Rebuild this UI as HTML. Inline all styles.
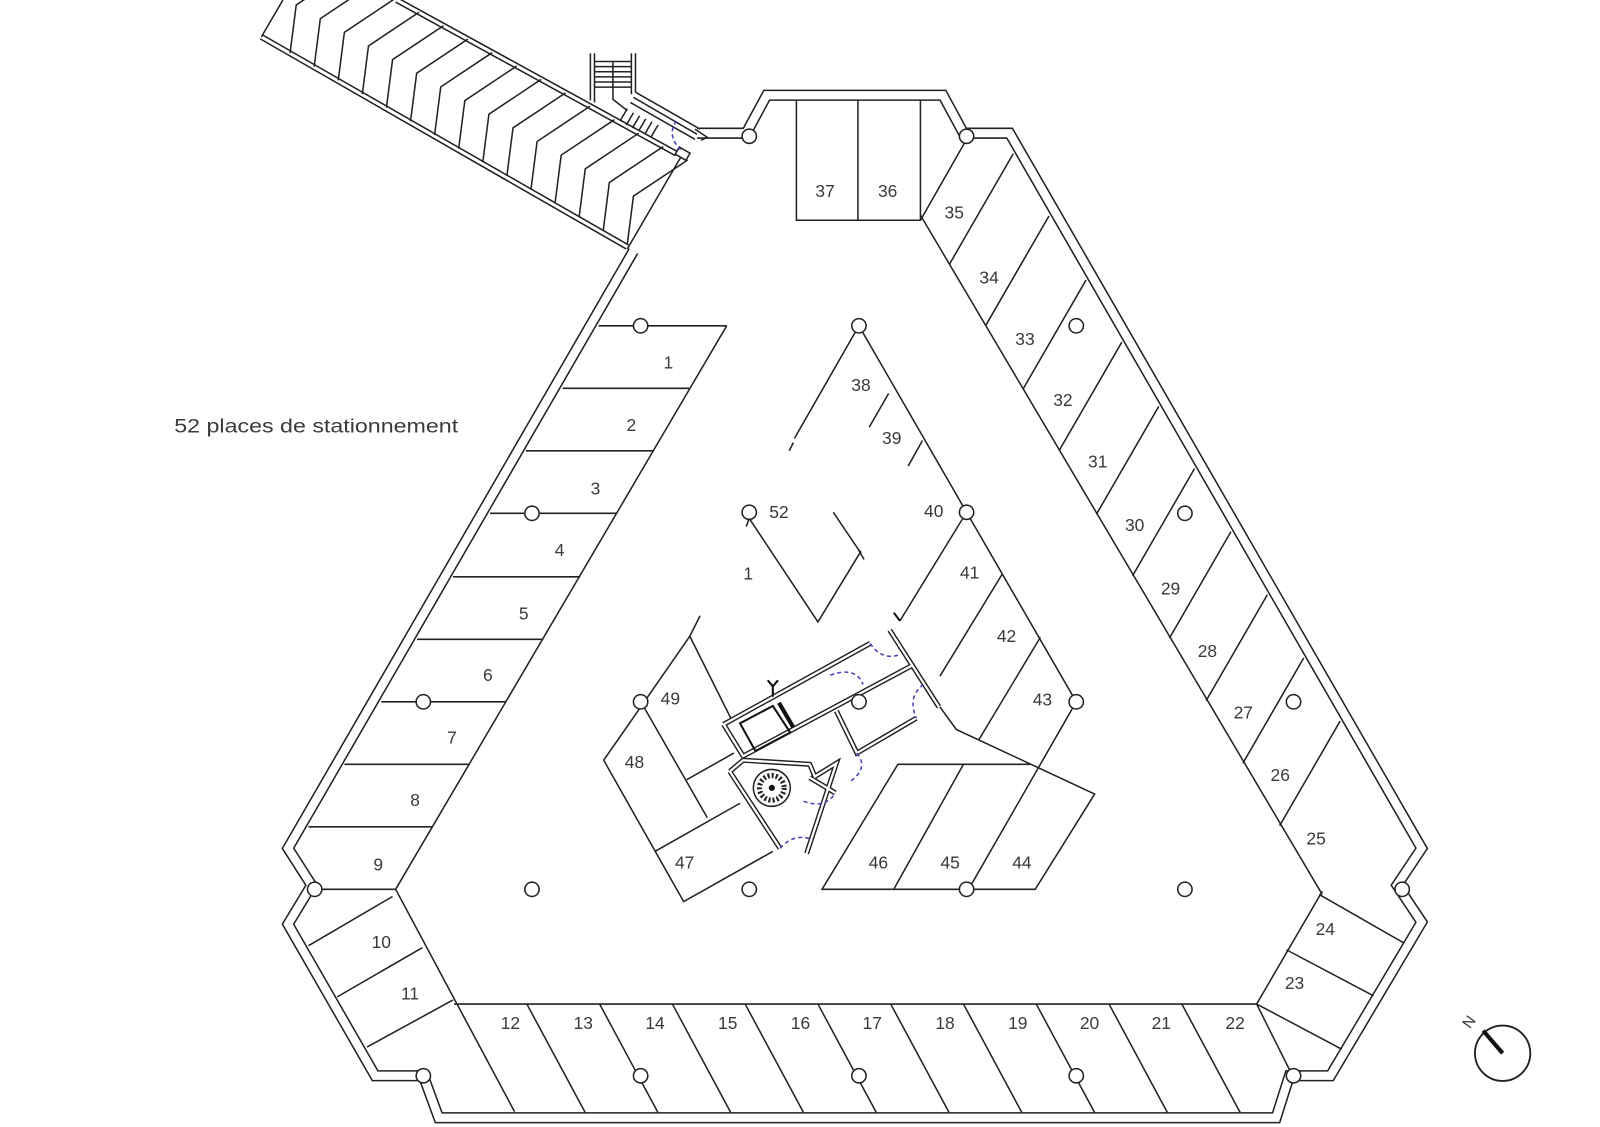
<!DOCTYPE html>
<html><head><meta charset="utf-8">
<style>
html,body{margin:0;padding:0;background:#fff;}
svg{display:block;}
text{font-family:"Liberation Sans",sans-serif;font-size:17px;fill:#3a3a3a;text-anchor:middle;dominant-baseline:middle;}
</style></head>
<body>
<svg id="s" width="1600" height="1127" viewBox="0 0 1561 1100" preserveAspectRatio="none" xmlns="http://www.w3.org/2000/svg">
<rect x="0" y="0" width="1561" height="1100" fill="#fff"/>
<g fill="none" stroke-linejoin="miter" stroke-linecap="butt">
  <path d="M680,130 L728,130 L748,93 L920,93 L940,130 L985,130 L1387,828 L1363,864 L1387,900 L1298,1050 L1258,1050 L1245,1091 L428,1091 L413,1050 L366,1050 L281,902 L304,864 L281,828 L618,245" stroke="#222" stroke-width="11"/>
  <path d="M680,130 L728,130 L748,93 L920,93 L940,130 L985,130 L1387,828 L1363,864 L1387,900 L1298,1050 L1258,1050 L1245,1091 L428,1091 L413,1050 L366,1050 L281,902 L304,864 L281,828 L618,245" stroke="#fff" stroke-width="8"/>

  <path d="M255,36 L612,241" stroke="#222" stroke-width="6"/>
  <path d="M255,36 L612,241" stroke="#fff" stroke-width="3"/>
  <path d="M387,0 L660,150" stroke="#222" stroke-width="6"/>
  <path d="M387,0 L660,150" stroke="#fff" stroke-width="3"/>
  <path d="M255,36 L276,0" stroke="#222" stroke-width="1.5"/>
  <path d="M665,152 L612,243" stroke="#222" stroke-width="1.5"/>
  <rect x="660" y="146" width="12" height="8" transform="rotate(30 666 150)" stroke="#222" stroke-width="1.5" fill="#fff"/>
  <g id="chev" stroke="#222" stroke-width="1.5"></g>

  <g stroke="#222" stroke-width="1.5">
    <path d="M576,52 L576,98 M580,52 L580,100 M616,52 L616,92 M620,52 L620,90"/>
    <path d="M580,60 H616 M580,65 H616 M580,70 H616 M580,75 H616 M580,80 H616 M580,85 H616"/>
    <path d="M598,60 L598,97 L612,108"/>
    <path d="M620,90 L683,126 M618,95 L680,131 M615,100 L678,136"/>
    <path d="M612,106 L605,118 M618,110 L611,122 M624,113 L617,125 M630,116 L623,128 M636,119 L629,131 M642,122 L635,134"/>
    <path d="M678,126 L690,134 L684,137"/>
  </g>
  <path d="M660,118 Q650,132 664,146" stroke="#4444bb" stroke-width="1.5" stroke-dasharray="4,3"/>

  <g stroke="#222" stroke-width="1.5">
    <path d="M777,98 L777,215 L898,215 L898,98 M837,98 L837,215"/>
    <path d="M898,215 L943,136"/>
    <path d="M709,318 L386,868"/>
    <path d="M584,318 H709 M549,379 H673 M513,440 H638 M478,501 H602 M442,563 H566 M407,624 H530 M372,685 H494 M336,746 H458 M301,807 H422 M311,868 H386"/>
    <path d="M386,868 L502,1085"/>
    <path d="M383,875 L301,923 M412,925 L329,973 M442,976 L358,1022"/>
    <path d="M443,980 H1226"/>
    <path d="M1226,980 L1258,1044"/>
    <g id="bot"></g>
    <path d="M1226,980 L1290,870 M1226,980 L1309,1024 M1255,927 L1340,972 M1287,873 L1369,920"/>
    <path d="M898,210 L1290,873"/>
    <g id="rc"></g>
    <path d="M838,318 L775,428 M838,318 L943,500 M867,384 L848,417 M900,430 L886,455 M774,432 L770,440"/>
    <path d="M731,506 L798,607 L840,538 M813,500 L840,540 M836,534 L843,546 M731,506 L728,514"/>
    <path d="M943,500 L1050,685 M943,500 L878,606 M978,560 L917,660 M1015,622 L955,722 M1050,685 L945,868"/>
    <path d="M917,690 L933,712 L1068,775 L1010,868 L802,868 L876,746 L1005,746"/>
    <path d="M940,746 L872,868"/>
    <path d="M683,601 L673,621 L589,742 L667,880 L754,831 M673,621 L714,703 M623,681 L690,798 M670,761 L716,735 M639,831 L722,784"/>
  </g>

  <g stroke="#222" stroke-width="5" fill="none">
    <path d="M706,707 L849,628 M706,707 L725,738 L891,649 M868,615 L916,690 M816,694 L836,735 L894,701 M712,753 L761,828 M725,742 L790,746 L795,758 L816,745 L787,833 M790,759 L815,774 M712,753 L725,742"/>
  </g>
  <g stroke="#fff" stroke-width="2.2" fill="none">
    <path d="M706,707 L849,628 M706,707 L725,738 L891,649 M868,615 L916,690 M816,694 L836,735 L894,701 M712,753 L761,828 M725,742 L790,746 L795,758 L816,745 L787,833 M790,759 L815,774 M712,753 L725,742"/>
  </g>
  <g stroke="#111" stroke-width="2">
    <path d="M722,706 L754,689 L771,715 L737,733 Z" />
    <path d="M760,686 L774,710" stroke-width="4"/>
    <path d="M754,668 L754,680 M749,664 L754,670 L759,664"/>
    <path d="M878,606 L872,598"/>
  </g>
  <circle cx="753" cy="769" r="18" stroke="#222" stroke-width="1.5" fill="none"/>
  <circle cx="753" cy="769" r="12" stroke="#222" stroke-width="5" fill="none" stroke-dasharray="2,2"/>
  <circle cx="753" cy="769" r="3" fill="#111"/>
  <g stroke="#4444bb" stroke-width="1.5" stroke-dasharray="4,3" fill="none">
    <path d="M849,628 Q860,645 878,639"/>
    <path d="M810,659 Q835,650 842,668"/>
    <path d="M901,668 Q885,680 894,701"/>
    <path d="M836,735 Q848,750 829,763"/>
    <path d="M784,782 Q805,790 815,774"/>
    <path d="M761,828 Q775,812 794,820"/>
  </g>

  <g stroke="#222" stroke-width="1.5" fill="#fff">
    <circle cx="625" cy="318" r="7"/><circle cx="519" cy="501" r="7"/><circle cx="413" cy="685" r="7"/>
    <circle cx="307" cy="868" r="7"/><circle cx="413" cy="1050" r="7"/><circle cx="625" cy="1050" r="7"/>
    <circle cx="838" cy="1050" r="7"/><circle cx="1050" cy="1050" r="7"/><circle cx="1262" cy="1050" r="7"/>
    <circle cx="1368" cy="868" r="7"/><circle cx="1262" cy="685" r="7"/><circle cx="1156" cy="501" r="7"/>
    <circle cx="1050" cy="318" r="7"/><circle cx="943" cy="133" r="7"/><circle cx="731" cy="133" r="7"/>
    <circle cx="838" cy="318" r="7"/><circle cx="731" cy="500" r="7"/><circle cx="943" cy="500" r="7"/>
    <circle cx="625" cy="685" r="7"/><circle cx="838" cy="685" r="7"/><circle cx="1050" cy="685" r="7"/>
    <circle cx="519" cy="868" r="7"/><circle cx="731" cy="868" r="7"/><circle cx="943" cy="868" r="7"/>
    <circle cx="1156" cy="868" r="7"/>
  </g>

  <circle cx="1466" cy="1028" r="27" stroke="#222" stroke-width="1.8" fill="none"/>
  <path d="M1447,1006 L1466,1028" stroke="#111" stroke-width="4"/>
</g>
<text x="1434" y="998" transform="rotate(-55 1434 998)" style="font-size:15px">N</text>

<text x="170" y="417" textLength="277" lengthAdjust="spacingAndGlyphs" style="font-size:19px;text-anchor:start">52 places de stationnement</text>

<g>
<text x="652" y="355">1</text><text x="616" y="416">2</text><text x="581" y="478">3</text>
<text x="546" y="538">4</text><text x="511" y="600">5</text><text x="476" y="660">6</text>
<text x="441" y="721">7</text><text x="405" y="782">8</text><text x="369" y="845">9</text>
<text x="372" y="921">10</text><text x="400" y="971">11</text>
<text x="498" y="1000">12</text><text x="569" y="1000">13</text><text x="639" y="1000">14</text>
<text x="710" y="1000">15</text><text x="781" y="1000">16</text><text x="851" y="1000">17</text>
<text x="922" y="1000">18</text><text x="993" y="1000">19</text><text x="1063" y="1000">20</text>
<text x="1133" y="1000">21</text><text x="1205" y="1000">22</text>
<text x="1263" y="961">23</text><text x="1293" y="908">24</text>
<text x="1284" y="820">25</text><text x="1249" y="758">26</text><text x="1213" y="697">27</text>
<text x="1178" y="637">28</text><text x="1142" y="576">29</text><text x="1107" y="514">30</text>
<text x="1071" y="452">31</text><text x="1037" y="392">32</text><text x="1000" y="332">33</text>
<text x="965" y="272">34</text><text x="931" y="209">35</text>
<text x="866" y="188">36</text><text x="805" y="188">37</text>
<text x="840" y="377">38</text><text x="870" y="429">39</text><text x="911" y="500">40</text>
<text x="946" y="560">41</text><text x="982" y="622">42</text><text x="1017" y="684">43</text>
<text x="997" y="843">44</text><text x="927" y="843">45</text><text x="857" y="843">46</text>
<text x="668" y="843">47</text><text x="619" y="745">48</text><text x="654" y="683">49</text>
<text x="760" y="501">52</text><text x="730" y="561">1</text>
</g>
</svg>
<script>
(function(){
var NS="http://www.w3.org/2000/svg";
function line(g,pts){var p=document.createElementNS(NS,"polyline");p.setAttribute("points",pts.map(function(a){return a.join(",")}).join(" "));g.appendChild(p);}
var ch=document.getElementById("chev");
for(var i=0;i<15;i++){var xb=283+23.5*i;var yb=36+0.567*(xb-255);
 var xk=xb+6,yk=yb-47;var t=(yk-0.55*(xk-387))/(26+0.55*39);
 line(ch,[[xb,yb],[xk,yk],[xk+39*t,yk-26*t]]);}
var b=document.getElementById("bot");
for(var k=1;k<=10;k++){var x=443+71*k;line(b,[[x,980],[x+57,1086]]);}
var r=document.getElementById("rc");
var ys=[258,318,380,440,502,562,623,684,745,806];
for(var j=0;j<ys.length;j++){var y=ys[j],x=898+0.588*(y-210);
 var t2=(902.1+0.576*y-x)/0.999;line(r,[[x,y],[x+0.5*t2,y-0.866*t2]]);}
})();
</script>
</body></html>
